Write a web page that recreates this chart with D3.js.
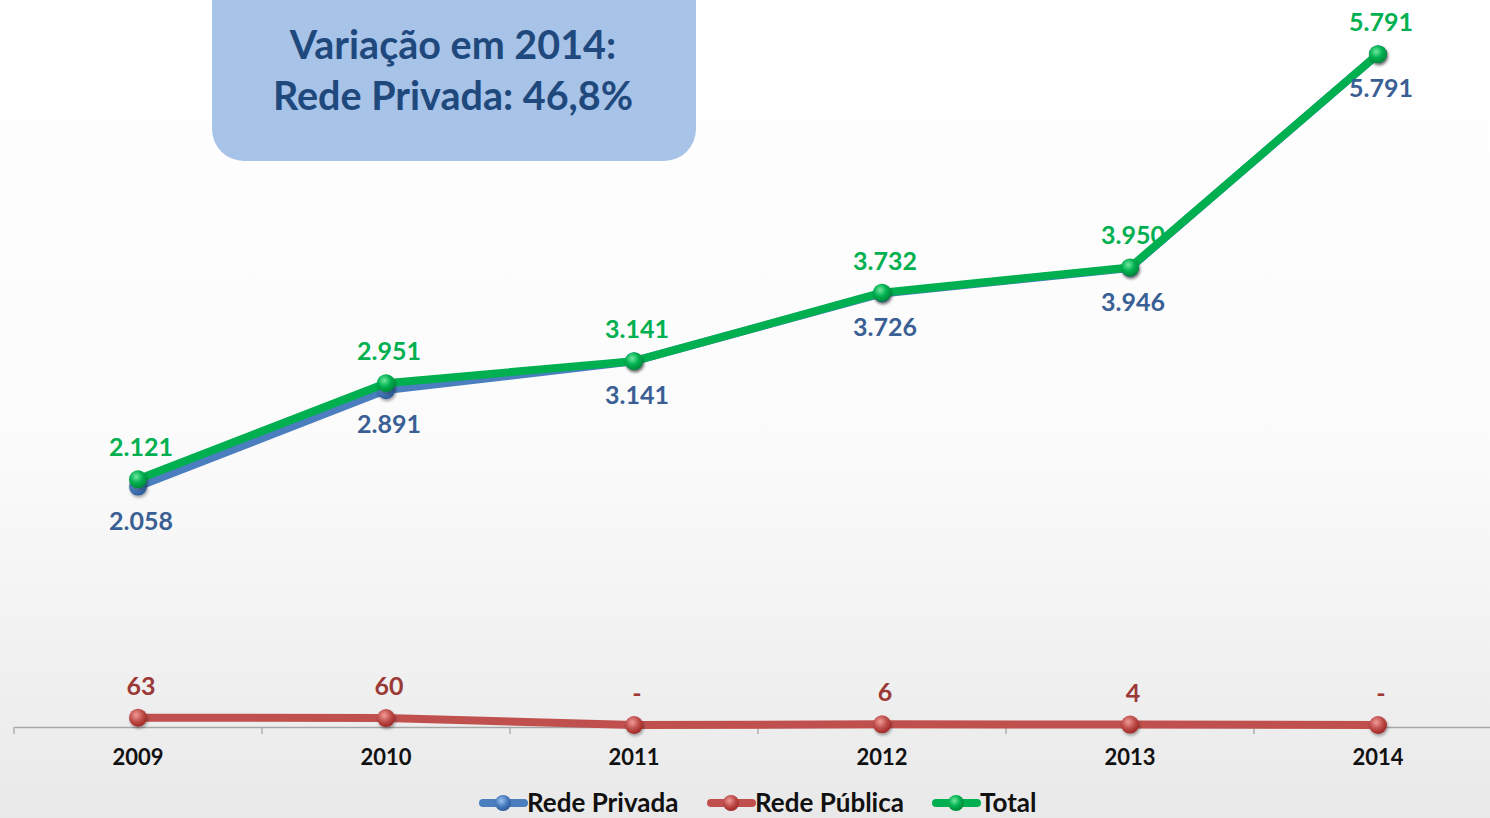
<!DOCTYPE html>
<html>
<head>
<meta charset="utf-8">
<script src="https://cdn.jsdelivr.net/npm/d3@7/dist/d3.min.js"></script>
<style>
  html, body { margin: 0; padding: 0; overflow: hidden; }
  svg { display: block; }
</style>
</head>
<body>
<svg></svg>
<script>
// data
let years = ["2009", "2010", "2011", "2012", "2013", "2014"]
let privada = [2058, 2891, 3141, 3726, 3946, 5791]
let publica = [63, 60, 0, 6, 4, 0]
let total = [2121, 2951, 3141, 3732, 3950, 5791]
let seriesNames = ["Rede Privada", "Rede Pública", "Total"]

let svgWidth = 1490, svgHeight = 818;
let font = "Lato, 'Open Sans', sans-serif";

let svg = d3.select("svg")
  .attr("width", svgWidth)
  .attr("height", svgHeight);

let defs = svg.append("defs");

// background gradient
let bg = defs.append("linearGradient").attr("id", "bg")
  .attr("x1", 0).attr("y1", 0).attr("x2", 0).attr("y2", 1);
bg.append("stop").attr("offset", "0%").attr("stop-color", "#ffffff");
bg.append("stop").attr("offset", "55%").attr("stop-color", "#fbfbfb");
bg.append("stop").attr("offset", "100%").attr("stop-color", "#e9e9e9");

svg.append("rect")
  .attr("width", svgWidth).attr("height", svgHeight)
  .attr("fill", "url(#bg)");

// sphere gradients for markers
let colors = {
  privada: {line: "#4a7ebf", light: "#9cc3f5", dark: "#2c5a9a", label: "#3a5f94"},
  publica: {line: "#c0504d", light: "#f29b98", dark: "#a02825", label: "#9b3937"},
  total: {line: "#00b050", light: "#6fe8a0", dark: "#008a3a", label: "#00b050"}
};
Object.keys(colors).forEach(k => {
  let g = defs.append("radialGradient").attr("id", "ball-" + k)
    .attr("cx", "40%").attr("cy", "35%").attr("r", "65%");
  g.append("stop").attr("offset", "0%").attr("stop-color", colors[k].light);
  g.append("stop").attr("offset", "55%").attr("stop-color", colors[k].line);
  g.append("stop").attr("offset", "100%").attr("stop-color", colors[k].dark);
});

let shadow = defs.append("filter").attr("id", "shadow")
  .attr("x", "-50%").attr("y", "-50%").attr("width", "200%").attr("height", "200%");
shadow.append("feDropShadow").attr("dx", 1).attr("dy", 2)
  .attr("stdDeviation", 1.5).attr("flood-color", "#000").attr("flood-opacity", 0.35);

// scales
let xScale = d3.scaleBand()
  .domain(years)
  .range([14, 1502]);

let yScale = d3.scaleLinear()
  .domain([0, 6000])
  .range([725, 30]);

let cx = (d, i) => xScale(years[i]) + xScale.bandwidth() / 2;

// x axis
let xAxis = d3.axisBottom(xScale)
  .tickSize(0)
  .tickPadding(22);

let axisG = svg.append("g")
  .attr("transform", "translate(0, 727)")
  .call(xAxis);
axisG.select(".domain").attr("stroke", "#a6a6a6").attr("stroke-width", 1.3);
axisG.selectAll("text")
  .attr("font-family", font)
  .attr("font-weight", "bold")
  .attr("font-size", 22)
  .attr("fill", "#111");

// tick marks between categories
let boundaries = years.map(y => xScale(y)).concat([xScale(years[years.length - 1]) + xScale.bandwidth()]);
axisG.selectAll("line.sep")
  .data(boundaries)
  .enter()
  .append("line")
  .attr("class", "sep")
  .attr("x1", d => d).attr("x2", d => d)
  .attr("y1", 0).attr("y2", 7)
  .attr("stroke", "#a6a6a6").attr("stroke-width", 1.3);

// title box
svg.append("rect")
  .attr("x", 212).attr("y", -30)
  .attr("width", 484).attr("height", 191)
  .attr("rx", 32).attr("ry", 32)
  .attr("fill", "#a7c3e8");

svg.selectAll("text.title")
  .data(["Variação em 2014:", "Rede Privada: 46,8%"])
  .enter()
  .append("text")
  .attr("class", "title")
  .attr("x", 453)
  .attr("y", (d, i) => 59 + i * 51)
  .attr("text-anchor", "middle")
  .attr("font-family", font)
  .attr("font-weight", "bold")
  .attr("font-size", 39.5)
  .attr("fill", "#1f497d")
  .text(d => d);

// lines
let line = d3.line()
  .x((d, i) => cx(d, i))
  .y(d => yScale(d));

let series = [
  {key: "publica", values: publica},
  {key: "privada", values: privada},
  {key: "total", values: total}
];

series.forEach(s => {
  svg.append("path")
    .datum(s.values)
    .attr("d", line)
    .attr("fill", "none")
    .attr("stroke", colors[s.key].line)
    .attr("stroke-width", 8)
    .attr("stroke-linejoin", "round")
    .attr("stroke-linecap", "round");

  svg.selectAll("circle." + s.key)
    .data(s.values)
    .enter()
    .append("circle")
    .attr("class", s.key)
    .attr("cx", cx)
    .attr("cy", d => yScale(d))
    .attr("r", 9)
    .attr("fill", "url(#ball-" + s.key + ")")
    .attr("filter", "url(#shadow)");
});

// value labels
let fmt = d3.format(",");
let ptFormat = d => fmt(d).replace(/,/g, ".");

let labels = [
  {key: "privada", values: privada, dy: 43, text: ptFormat},
  {key: "publica", values: publica, dy: -23, text: d => d === 0 ? "-" : ptFormat(d)},
  {key: "total", values: total, dy: -23, text: ptFormat}
];

labels.forEach(l => {
  svg.selectAll("text.lbl-" + l.key)
    .data(l.values)
    .enter()
    .append("text")
    .attr("class", "lbl-" + l.key)
    .attr("x", (d, i) => cx(d, i) + 3)
    .attr("y", d => yScale(d) + l.dy)
    .attr("text-anchor", "middle")
    .attr("font-family", font)
    .attr("font-weight", "bold")
    .attr("font-size", 25)
    .attr("fill", colors[l.key].label)
    .text(l.text);
});

// legend
let legendX = [480, 708, 933];
let keys = ["privada", "publica", "total"];
let legend = svg.selectAll("g.legend")
  .data(keys)
  .enter()
  .append("g")
  .attr("class", "legend")
  .attr("transform", (d, i) => "translate(" + legendX[i] + ", 803)");

legend.append("line")
  .attr("x1", 3).attr("x2", 44)
  .attr("y1", 0).attr("y2", 0)
  .attr("stroke", d => colors[d].line)
  .attr("stroke-width", 8)
  .attr("stroke-linecap", "round");

legend.append("circle")
  .attr("cx", 23).attr("cy", 0).attr("r", 8)
  .attr("fill", d => "url(#ball-" + d + ")");

legend.append("text")
  .attr("x", 47)
  .attr("y", 9)
  .attr("font-family", font)
  .attr("font-weight", "bold")
  .attr("font-size", 26)
  .attr("fill", "#111")
  .text((d, i) => seriesNames[i]);
</script>
</body>
</html>
